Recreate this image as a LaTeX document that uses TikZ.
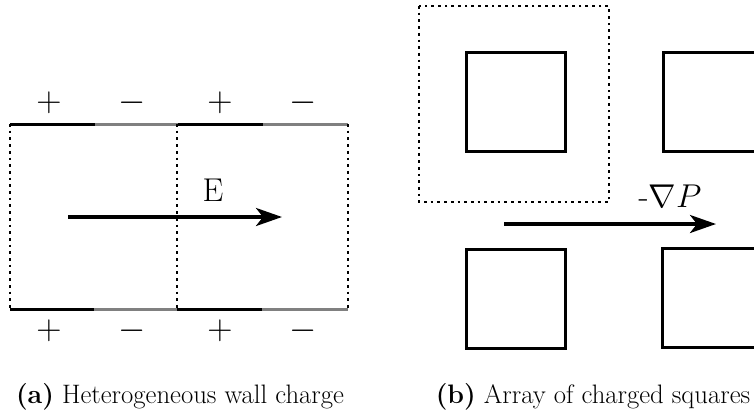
\RequirePackage{fix-cm}
\documentclass[tikz,border=0pt]{standalone}
\usetikzlibrary{arrows.meta}
\begin{document}
\begin{tikzpicture}[x=1pt,y=-1pt,
  poswall/.style={line width=3pt,black},
  negwall/.style={line width=3pt,gray},
  dotbox/.style={line width=2.8pt,dash pattern=on 2.7pt off 4pt},
  sq/.style={line width=3pt},
  bigarrow/.style={line width=3.5pt,-{Stealth[length=26pt,width=18pt,inset=7pt]}},
  sign/.style={font=\fontsize{35}{40}\selectfont,inner sep=0pt},
  lbl/.style={font=\fontsize{33}{38}\selectfont,inner sep=0pt,anchor=base},
  captext/.style={font=\fontsize{26.7}{32}\selectfont,inner sep=0pt,anchor=base}]
\useasboundingbox (0,0) rectangle (754,416);
\clip (0,0) rectangle (754,416);
% panel (a)
\draw[poswall] (10,124) -- (95,124);
\draw[negwall] (95,124) -- (178,124);
\draw[poswall] (178,124) -- (263,124);
\draw[negwall] (263,124) -- (348,124);
\draw[poswall] (10,309) -- (94,309);
\draw[negwall] (94,309) -- (177,309);
\draw[poswall] (177,309) -- (262,309);
\draw[negwall] (262,309) -- (348,309);
\draw[dotbox] (10,124) -- (10,309);
\draw[dotbox] (177,124) -- (177,309);
\draw[dotbox] (348,124) -- (348,309);
\node[sign] (t1) at (49,102.5) {$+$};
\node[sign] (t2) at (132,102.5) {$-$};
\node[sign] (t3) at (220,102.5) {$+$};
\node[sign] (t4) at (303,102.5) {$-$};
\node[sign] (b1) at (49,331) {$+$};
\node[sign] (b2) at (132,331) {$-$};
\node[sign] (b3) at (220,331) {$+$};
\node[sign] (b4) at (303,331) {$-$};
\coordinate (ea) at (68,217);
\coordinate (eb) at (282,217);
\draw[bigarrow] (ea) -- (eb);
\node[lbl] (E) at (213,201) {E};
\node[captext] (capa) at (180,403) {\textbf{(a)} Heterogeneous wall charge};
% panel (b)
\draw[dotbox] (419,6) rectangle (609,202);
\draw[sq] (466,52) rectangle (565,151);
\draw[sq] (663,52) rectangle (770,151);
\draw[sq] (466,249) rectangle (565,348);
\draw[sq] (662,248) rectangle (770,347);
\coordinate (pa) at (504,224);
\coordinate (pb) at (716,224);
\draw[bigarrow] (pa) -- (pb);
\node[lbl] (gp) at (670,207) {-$\nabla P$};
\node[captext] (capb) at (593,403) {\textbf{(b)} Array of charged squares};
\end{tikzpicture}
\end{document}
